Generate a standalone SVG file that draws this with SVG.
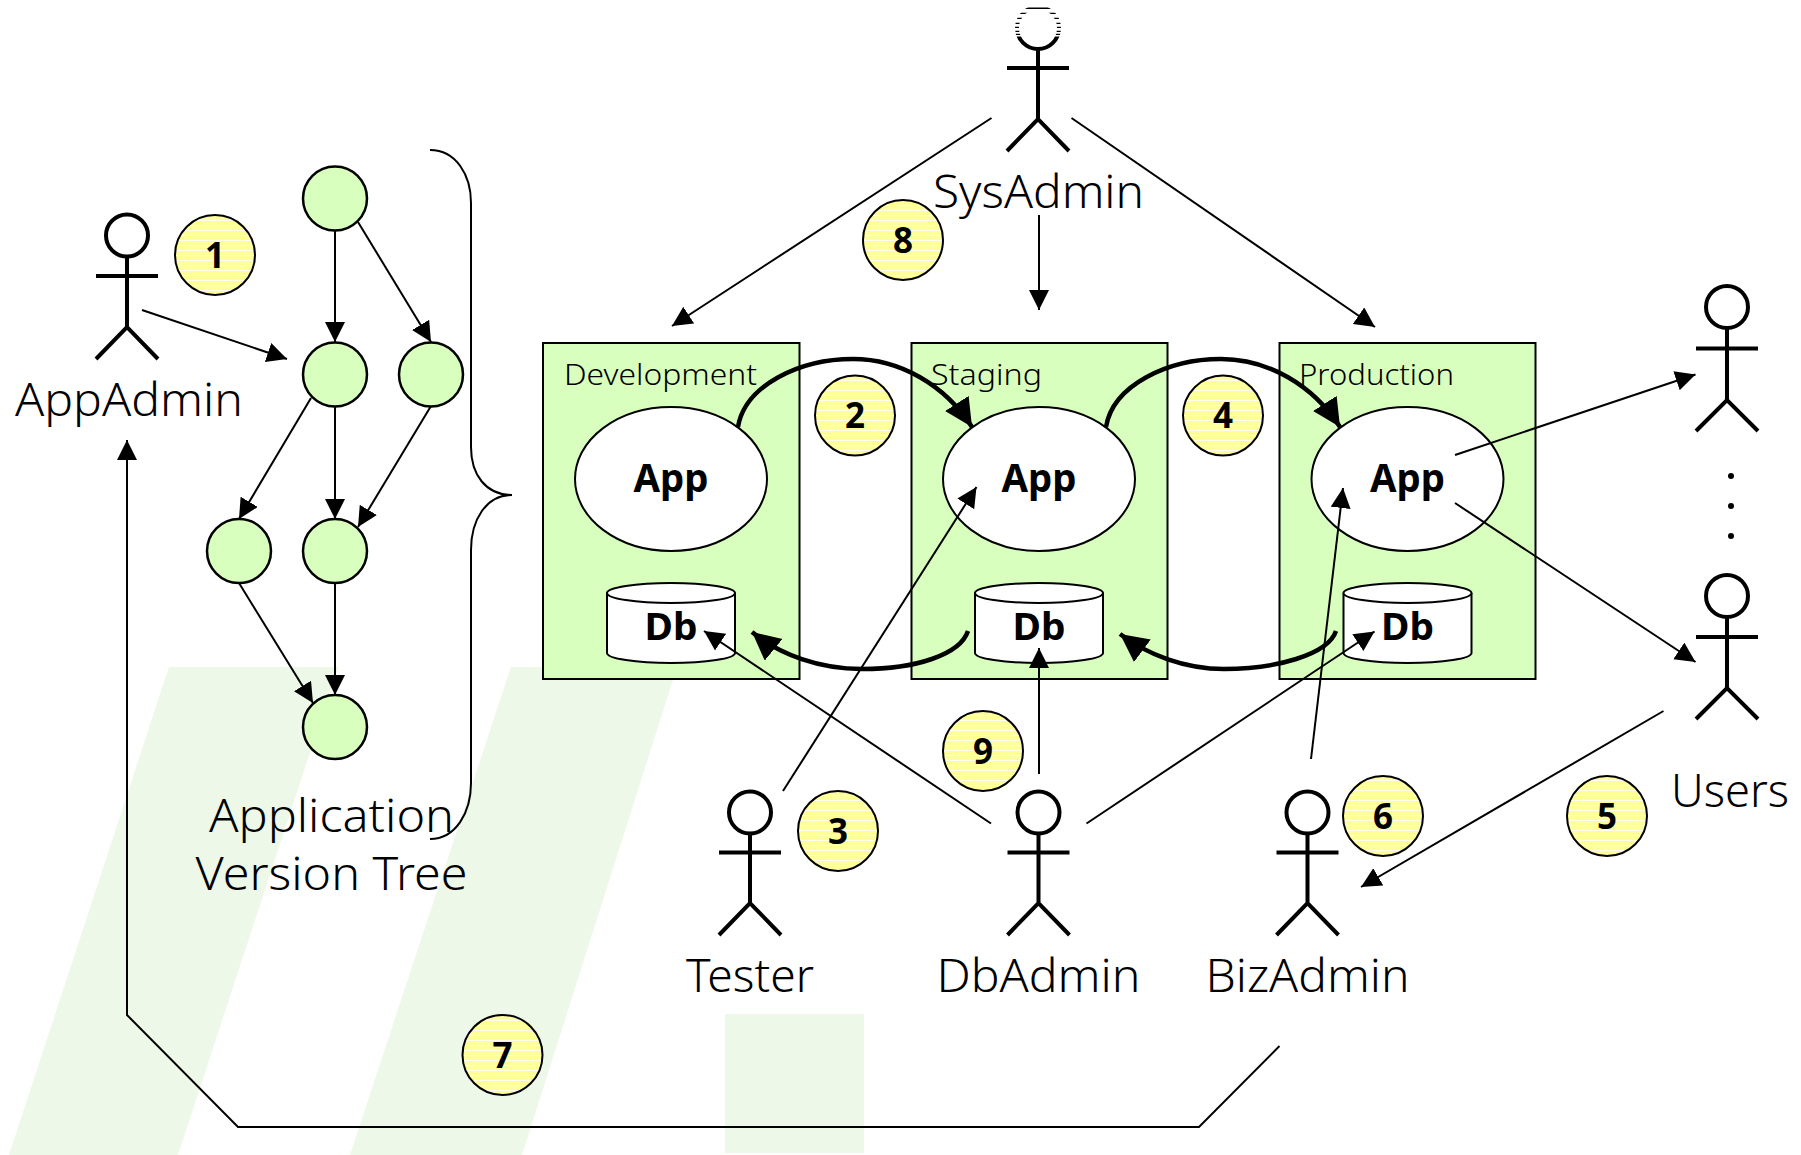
<svg xmlns="http://www.w3.org/2000/svg" width="1801" height="1155" viewBox="0 0 1801 1155">
<style>
text{font-family:"Noto Sans","DejaVu Sans",sans-serif;fill:#000;text-anchor:middle}
.lbl{font-size:45px;font-weight:300}
.env{font-size:30px;font-weight:300;text-anchor:start}
.b{font-weight:700}
.app{font-size:39px}
.db{font-size:38px}
.num{font-size:35px}
.panel{fill:#d9ffbe;stroke:#000;stroke-width:2}
.tn{fill:#d9ffbe;stroke:#000;stroke-width:2.5}
.ell{fill:#fff;stroke:#000;stroke-width:2}
.badge{fill:url(#stripes);stroke:#000;stroke-width:2}
.wm{fill:#edf8e8}
.actor{fill:none;stroke:#000;stroke-width:4}
.c{fill:none;stroke:#000;stroke-width:2;marker-end:url(#ah)}
.t{fill:none;stroke:#000;stroke-width:4.5;marker-end:url(#ahb)}
</style>
<defs>
<pattern id="stripes" width="5" height="5" patternUnits="userSpaceOnUse">
<rect width="5" height="5" fill="#ffff99"/><rect width="5" height="1" fill="#ffffee"/>
</pattern>
<marker id="ah" markerUnits="userSpaceOnUse" markerWidth="22" markerHeight="22" refX="20" refY="10" orient="auto"><path d="M0 0L20 10L0 20Z" fill="#000"/></marker>
<marker id="ahb" markerUnits="userSpaceOnUse" markerWidth="32" markerHeight="32" refX="28" refY="14" orient="auto"><path d="M0 0L28 14L0 28Z" fill="#000"/></marker>
<clipPath id="headclip">
<rect x="1010" y="7.6" width="60" height="1.3"/><rect x="1010" y="12.8" width="60" height="1.3"/><rect x="1010" y="17.8" width="60" height="1.3"/><rect x="1010" y="22.8" width="60" height="1.3"/><rect x="1010" y="26.8" width="60" height="1.3"/><rect x="1010" y="30.8" width="60" height="1.3"/><rect x="1010" y="33.8" width="60" height="1.3"/><rect x="1010" y="36.5" width="60" height="20"/>
</clipPath>
</defs>
<rect width="1801" height="1155" fill="#fff"/>
<g id="background">
<path class="wm" d="M169 667L338 667L178 1155L9 1155Z"/>
<path class="wm" d="M511 667L677 667L522 1155L350 1155Z"/>
<rect class="wm" x="725" y="1014" width="139" height="139"/>
</g>
<g id="development">
<rect class="panel" x="543" y="343" width="256.500" height="336"/>
<text class="env" x="564" y="385" textLength="193" lengthAdjust="spacingAndGlyphs">Development</text>
<ellipse class="ell" cx="671" cy="479" rx="96" ry="72"/>
<text class="b app" x="671" y="492" textLength="75" lengthAdjust="spacingAndGlyphs">App</text>
<path class="ell" d="M607 593V653C607 658.500 636 663 671 663S735 658.500 735 653V593"/>
<ellipse class="ell" cx="671" cy="593" rx="64" ry="10"/>
<text class="b db" x="671" y="640" textLength="53" lengthAdjust="spacingAndGlyphs">Db</text>
</g>
<g id="staging">
<rect class="panel" x="911.500" y="343" width="256" height="336"/>
<text class="env" x="931" y="385" textLength="111" lengthAdjust="spacingAndGlyphs">Staging</text>
<ellipse class="ell" cx="1039" cy="479" rx="96" ry="72"/>
<text class="b app" x="1039" y="492" textLength="75" lengthAdjust="spacingAndGlyphs">App</text>
<path class="ell" d="M975 593V653C975 658.500 1004 663 1039 663S1103 658.500 1103 653V593"/>
<ellipse class="ell" cx="1039" cy="593" rx="64" ry="10"/>
<text class="b db" x="1039" y="640" textLength="53" lengthAdjust="spacingAndGlyphs">Db</text>
</g>
<g id="production">
<rect class="panel" x="1279.500" y="343" width="256" height="336"/>
<text class="env" x="1299" y="385" textLength="155" lengthAdjust="spacingAndGlyphs">Production</text>
<ellipse class="ell" cx="1407.500" cy="479" rx="96" ry="72"/>
<text class="b app" x="1407.500" y="492" textLength="75" lengthAdjust="spacingAndGlyphs">App</text>
<path class="ell" d="M1343.500 593V653C1343.500 658.500 1372 663 1407.500 663S1471.500 658.500 1471.500 653V593"/>
<ellipse class="ell" cx="1407.500" cy="593" rx="64" ry="10"/>
<text class="b db" x="1407.500" y="640" textLength="53" lengthAdjust="spacingAndGlyphs">Db</text>
</g>
<g id="version-tree">
<circle class="tn" cx="335" cy="198.500" r="32"/>
<circle class="tn" cx="335" cy="374.500" r="32"/>
<circle class="tn" cx="431" cy="374.500" r="32"/>
<circle class="tn" cx="239" cy="551" r="32"/>
<circle class="tn" cx="335" cy="551" r="32"/>
<circle class="tn" cx="335" cy="727" r="32"/>
<text class="lbl" x="331.500" y="831.500" textLength="245" lengthAdjust="spacingAndGlyphs">Application</text>
<text class="lbl" x="331.500" y="889.500" textLength="272" lengthAdjust="spacingAndGlyphs">Version Tree</text>
<path fill="none" stroke="#000" stroke-width="2" d="M430 150C456 150 471 175 471 203V447C471 475 486 495 512 495C486 495 471 520 471 550V783C471 812 456 839 430 839"/>
</g>
<g id="actor-appadmin">
<path class="actor" d="M127 256V327M96 276H158M96 359L127 327L158 359"/><circle class="actor" cx="127" cy="235.500" r="21"/>
<text class="lbl" x="129" y="415.500" textLength="228" lengthAdjust="spacingAndGlyphs">AppAdmin</text>
</g>
<g id="actor-sysadmin">
<path class="actor" d="M1038 49V119M1007 68H1069M1007 151L1038 119L1069 151"/><circle class="actor" cx="1038" cy="28" r="21" clip-path="url(#headclip)"/>
<text class="lbl" x="1038.500" y="208" textLength="211" lengthAdjust="spacingAndGlyphs">SysAdmin</text>
</g>
<g id="actor-user1">
<path class="actor" d="M1727 328V400M1696 348.500H1758M1696 431L1727 400L1758 431"/><circle class="actor" cx="1727" cy="307" r="21"/>
</g>
<g id="ellipsis">
<circle cx="1731" cy="476" r="3"/><circle cx="1731" cy="506" r="3"/><circle cx="1731" cy="536" r="3"/>
</g>
<g id="actor-user2">
<path class="actor" d="M1727 616V688M1696 637H1758M1696 719L1727 688L1758 719"/><circle class="actor" cx="1727" cy="596" r="21"/>
<text class="lbl" x="1730" y="807" textLength="118" lengthAdjust="spacingAndGlyphs">Users</text>
</g>
<g id="actor-tester">
<path class="actor" d="M750 833V903M719 852.500H781M719 935L750 903L781 935"/><circle class="actor" cx="750" cy="812.500" r="21"/>
<text class="lbl" x="750" y="991.500" textLength="128" lengthAdjust="spacingAndGlyphs">Tester</text>
</g>
<g id="actor-dbadmin">
<path class="actor" d="M1038.500 833V903M1007.500 852.500H1069.500M1007.500 935L1038.500 903L1069.500 935"/><circle class="actor" cx="1038.500" cy="812.500" r="21"/>
<text class="lbl" x="1038.500" y="991.500" textLength="204" lengthAdjust="spacingAndGlyphs">DbAdmin</text>
</g>
<g id="actor-bizadmin">
<path class="actor" d="M1307.500 833V903M1276.500 852.500H1338.500M1276.500 935L1307.500 903L1338.500 935"/><circle class="actor" cx="1307.500" cy="812.500" r="21"/>
<text class="lbl" x="1307.500" y="991.500" textLength="204" lengthAdjust="spacingAndGlyphs">BizAdmin</text>
</g>
<g id="badges">
<g id="badge-1"><circle class="badge" cx="215" cy="255" r="40"/><text class="b num" x="215" y="268">1</text></g>
<g id="badge-2"><circle class="badge" cx="855" cy="415.500" r="40"/><text class="b num" x="855" y="428">2</text></g>
<g id="badge-3"><circle class="badge" cx="838" cy="831" r="40"/><text class="b num" x="838" y="844">3</text></g>
<g id="badge-4"><circle class="badge" cx="1223" cy="415.500" r="40"/><text class="b num" x="1223" y="428">4</text></g>
<g id="badge-5"><circle class="badge" cx="1607" cy="816" r="40"/><text class="b num" x="1607" y="829">5</text></g>
<g id="badge-6"><circle class="badge" cx="1383" cy="816" r="40"/><text class="b num" x="1383" y="829">6</text></g>
<g id="badge-7"><circle class="badge" cx="502.500" cy="1055" r="40"/><text class="b num" x="502.500" y="1068">7</text></g>
<g id="badge-8"><circle class="badge" cx="903" cy="240" r="40"/><text class="b num" x="903" y="253">8</text></g>
<g id="badge-9"><circle class="badge" cx="983" cy="751" r="40"/><text class="b num" x="983" y="764">9</text></g>
</g>
<g id="connectors">
<path class="c" d="M142 310L287 359"/>
<path class="c" d="M335 230V342"/>
<path class="c" d="M358 222L431 342"/>
<path class="c" d="M311 398L239 519"/>
<path class="c" d="M335 406V519"/>
<path class="c" d="M431 406L358 527"/>
<path class="c" d="M239 583L313 703"/>
<path class="c" d="M335 583V695"/>
<path class="c" d="M1279.500 1046L1199 1127H238L127 1015V440"/>
<path class="c" d="M991.500 118L672 326"/>
<path class="c" d="M1039 215V310"/>
<path class="c" d="M1071.500 118L1375 327"/>
<path class="c" d="M991 823.500L704 631"/>
<path class="c" d="M1039 774V648"/>
<path class="c" d="M1086.500 823.500L1374.500 631.500"/>
<path class="c" d="M783 791L976.500 487"/>
<path class="c" d="M1311 759L1343 488"/>
<path class="c" d="M1455 455L1695.500 374.500"/>
<path class="c" d="M1455 503L1695.500 662"/>
<path class="c" d="M1663.500 711L1361 887"/>
<path class="t" d="M738 427C745 385 800 359 853 359C900 359 945 385 972 427"/>
<path class="t" d="M1106 427C1113 385 1168 359 1221 359C1268 359 1313 385 1340 427"/>
<path class="t" d="M968 631C960 655 915 669 862 669C820 669 780 655 752 632"/>
<path class="t" d="M1336 631C1328 655 1275 669 1224 669C1185 669 1148 655 1120 634"/>
</g>
</svg>
